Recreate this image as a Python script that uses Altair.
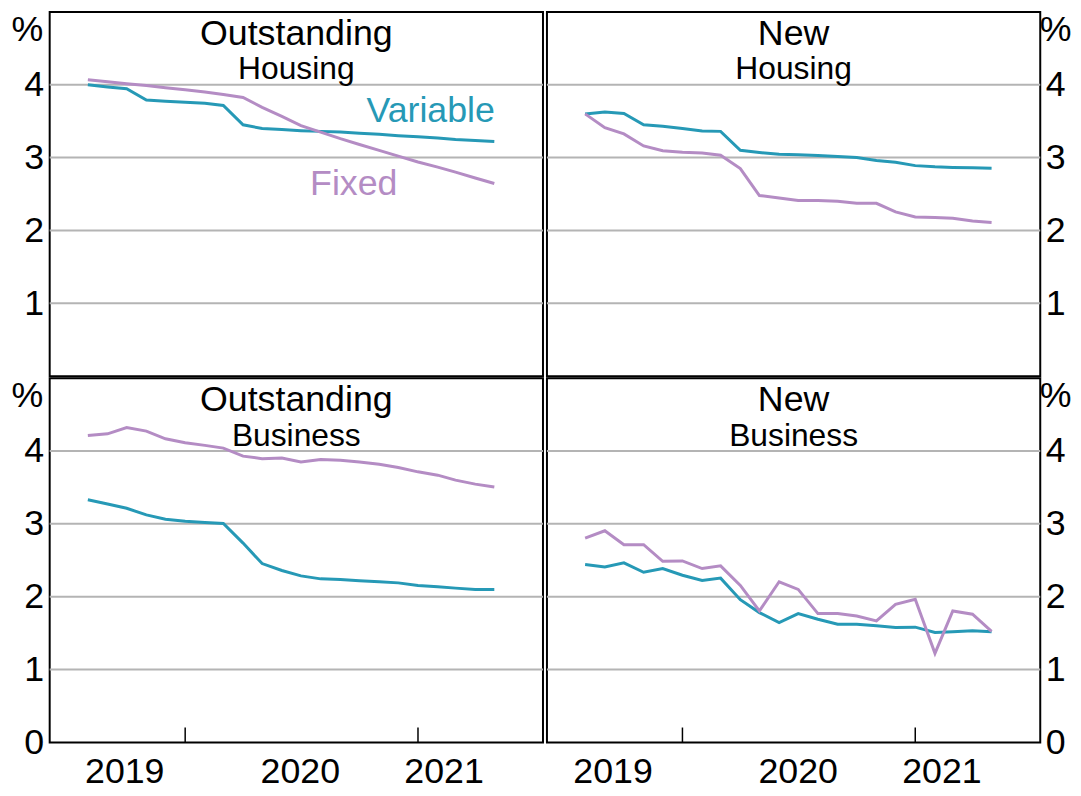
import altair as alt
import pandas as pd

# ---------------- data ----------------
dates = [d.strftime("%Y-%m-%d") for d in pd.date_range("2019-08-01", periods=22, freq="MS")]

oh_var = [4.00, 3.97, 3.945, 3.79, 3.775, 3.76, 3.745, 3.715, 3.45, 3.40, 3.385,
          3.37, 3.36, 3.35, 3.335, 3.32, 3.30, 3.285, 3.27, 3.25, 3.235, 3.22]
oh_fix = [4.07, 4.04, 4.015, 3.99, 3.96, 3.93, 3.90, 3.865, 3.825, 3.69, 3.565,
          3.44, 3.35, 3.26, 3.18, 3.10, 3.02, 2.94, 2.87, 2.80, 2.72, 2.645]
nh_var = [3.60, 3.625, 3.605, 3.45, 3.43, 3.40, 3.365, 3.36, 3.10, 3.07, 3.045,
          3.04, 3.03, 3.015, 3.00, 2.96, 2.935, 2.89, 2.873, 2.864, 2.86, 2.855]
nh_fix = [3.60, 3.41, 3.325, 3.16, 3.095, 3.073, 3.064, 3.032, 2.85, 2.48, 2.445,
          2.41, 2.41, 2.40, 2.373, 2.373, 2.255, 2.186, 2.177, 2.168, 2.13, 2.11]
ob_var = [3.33, 3.273, 3.214, 3.123, 3.064, 3.036, 3.018, 3.005, 2.736, 2.455, 2.36,
          2.286, 2.245, 2.236, 2.218, 2.205, 2.19, 2.155, 2.136, 2.118, 2.10, 2.10]
ob_fix = [4.214, 4.236, 4.323, 4.273, 4.168, 4.114, 4.077, 4.04, 3.93, 3.895, 3.905,
          3.85, 3.882, 3.873, 3.85, 3.818, 3.773, 3.714, 3.668, 3.60, 3.545, 3.505]
nb_var = [2.441, 2.409, 2.464, 2.336, 2.386, 2.295, 2.223, 2.255, 1.959, 1.782, 1.645,
          1.768, 1.691, 1.623, 1.623, 1.60, 1.577, 1.582, 1.509, 1.518, 1.532, 1.518]
nb_fix = [2.805, 2.905, 2.714, 2.714, 2.486, 2.491, 2.386, 2.423, 2.155, 1.805, 2.205,
          2.10, 1.768, 1.768, 1.736, 1.668, 1.895, 1.964, 1.223, 1.805, 1.759, 1.523]

series_names = ["Variable", "Fixed"]
panel_keys = ["oh", "nh", "ob", "nb"]
panel_titles = ["Outstanding", "New", "Outstanding", "New"]
panel_subtitles = ["Housing", "Housing", "Business", "Business"]

year_tick_dates = ["2020-01-01", "2021-01-01"]
year_labels = ["2019", "2020", "2021"]
year_label_dates_left = ["2019-09-28", "2020-06-30", "2021-02-11"]
year_label_dates_right = ["2019-09-14", "2020-07-01", "2021-02-12"]

grid_values = [1, 2, 3, 4]

annot_text = ["Variable", "Fixed"]
annot_dates = ["2021-01-21", "2020-09-22"]
annot_values = [3.645, 2.64]

# ---------------- build tables ----------------
values = {"oh": (oh_var, oh_fix), "nh": (nh_var, nh_fix),
          "ob": (ob_var, ob_fix), "nb": (nb_var, nb_fix)}
rows = []
for k, (v, f) in values.items():
    for d, a in zip(dates, v):
        rows.append({"panel": k, "date": d, "value": a, "series": "Variable"})
    for d, a in zip(dates, f):
        rows.append({"panel": k, "date": d, "value": a, "series": "Fixed"})
df = pd.DataFrame(rows)

grid_df = pd.DataFrame({"v": grid_values})
tick_df = pd.DataFrame({"d": year_tick_dates})
annot_df = pd.DataFrame({"t": annot_text, "d": annot_dates, "v": annot_values,
                         "series": series_names})

TEAL = "#2699B6"
PURPLE = "#B48CC4"
GRID = "#b4b4b4"
FONT = "Liberation Sans"
W, H = 497, 367

XDOM = [alt.DateTime(year=2019, month=6, date=2),
        alt.DateTime(year=2021, month=7, date=16, hours=12)]
xscale = alt.Scale(domain=XDOM)
yscale = alt.Scale(domain=[0, 5], nice=False)
cscale = alt.Scale(domain=series_names, range=[TEAL, PURPLE])


def panel(i, side, bottom):
    key = panel_keys[i]
    vals = [0, 1, 2, 3, 4] if bottom else [1, 2, 3, 4]
    yaxis = alt.Axis(orient=side, values=vals, grid=False, ticks=False, domain=False,
                     labelFontSize=36, labelPadding=(6 if side == "left" else 5),
                     labelColor="black",
                     title="%", titleAngle=0, titleAlign="center", titleBaseline="top",
                     titleX=(-23 if side == "left" else 15), titleY=1,
                     titleFontSize=36, titleFontWeight="normal", titleColor="black")
    grid = alt.Chart(grid_df).mark_rule(color=GRID, strokeWidth=2).encode(
        y=alt.Y("v:Q", scale=yscale, axis=yaxis))
    lines = alt.Chart(df[df.panel == key]).mark_line(strokeWidth=3).encode(
        x=alt.X("date:T", scale=xscale, axis=None),
        y=alt.Y("value:Q", scale=yscale, axis=yaxis),
        color=alt.Color("series:N", scale=cscale, legend=None),
        order=alt.Order("date:T"))
    t1 = alt.Chart(pd.DataFrame({"t": [panel_titles[i]]})).mark_text(
        fontSize=36, baseline="alphabetic", color="black").encode(
        x=alt.value(W / 2), y=alt.value(33), text="t:N")
    t2 = alt.Chart(pd.DataFrame({"t": [panel_subtitles[i]]})).mark_text(
        fontSize=32, baseline="alphabetic", color="black").encode(
        x=alt.value(W / 2), y=alt.value(68), text="t:N")
    layers = [grid, lines, t1, t2]
    if key == "oh":
        ann = alt.Chart(annot_df).mark_text(fontSize=36, baseline="middle").encode(
            x=alt.X("d:T", scale=xscale, axis=None),
            y=alt.Y("v:Q", scale=yscale, axis=yaxis),
            text="t:N",
            color=alt.Color("series:N", scale=cscale, legend=None))
        layers.append(ann)
    if bottom:
        ticks = alt.Chart(tick_df).mark_rule(color="black", strokeWidth=1.5).encode(
            x=alt.X("d:T", scale=xscale, axis=None),
            y=alt.value(H), y2=alt.value(H - 15))
        ld = year_label_dates_left if side == "left" else year_label_dates_right
        lab_df = pd.DataFrame({"d": ld, "label": year_labels})
        labs = alt.Chart(lab_df).mark_text(fontSize=36, baseline="alphabetic", color="black").encode(
            x=alt.X("d:T", scale=xscale, axis=None),
            y=alt.value(H + 41), text="label:N")
        layers += [ticks, labs]
    return alt.layer(*layers).properties(width=W, height=H)


chart = alt.concat(
    panel(0, "left", False), panel(1, "right", False),
    panel(2, "left", True), panel(3, "right", True),
    columns=2, spacing=0
).properties(
    padding={"left": 1, "top": 0, "right": 0, "bottom": -6}
).configure(font=FONT).configure_view(stroke="black", strokeWidth=2)

chart.save("out.html", embed_options={"renderer": "svg", "actions": False})
